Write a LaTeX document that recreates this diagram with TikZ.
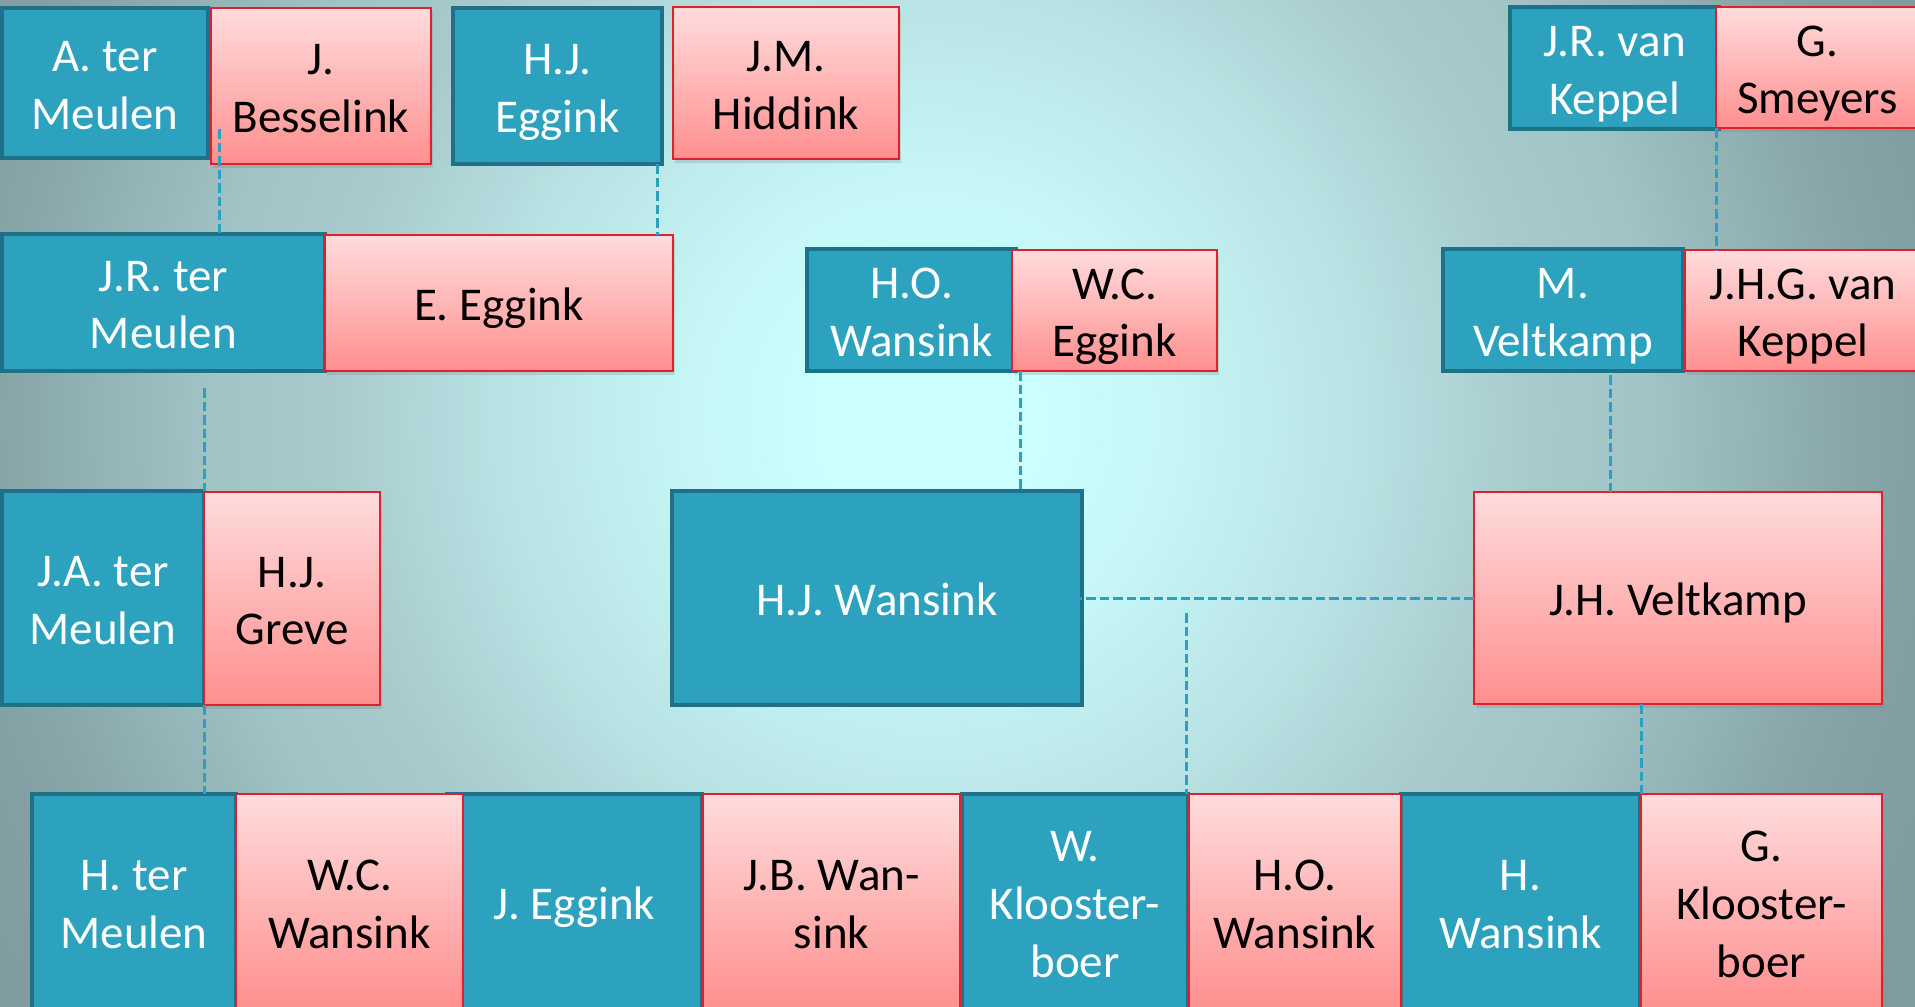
\documentclass[tikz,border=0pt]{standalone}
\usepackage{fontspec}
\setmainfont{Carlito}
\usetikzlibrary{calc,shadows}
\definecolor{bg0}{HTML}{CCFFFF}
\definecolor{bg1}{HTML}{C6F6F6}
\definecolor{bg2}{HTML}{B8E2E3}
\definecolor{bg3}{HTML}{A8CACC}
\definecolor{bg4}{HTML}{A0C3C5}
\definecolor{bg5}{HTML}{87A4A7}
\definecolor{bg6}{HTML}{82A0A4}
\definecolor{bg7}{HTML}{7E9B9F}
\definecolor{bluefill}{HTML}{2DA2BF}
\definecolor{blueline}{HTML}{1F7189}
\definecolor{pinktop}{HTML}{FFDCDC}
\definecolor{pinkbot}{HTML}{FF8F8F}
\definecolor{redline}{HTML}{E0202A}
\definecolor{conncol}{HTML}{2AA0C2}
\pgfdeclareradialshading{bgshade}{\pgfpoint{0bp}{0bp}}{color(0bp)=(bg0); color(48bp)=(bg0); color(120bp)=(bg1); color(215bp)=(bg2); color(300bp)=(bg3); color(360bp)=(bg4); color(465bp)=(bg5); color(493bp)=(bg6); color(550bp)=(bg7); color(620bp)=(bg7)}
\tikzset{
  person/.style={inner sep=0pt, outer sep=0pt},
  man/.style={person, fill=bluefill, draw=blueline, line width=2.25pt},
  woman/.style={person, top color=pinktop, bottom color=pinkbot, draw=redline, line width=1.2pt,
    drop shadow={shadow xshift=1.2pt, shadow yshift=-2pt, opacity=0.25}},
  mantext/.style={inner sep=0pt, align=center, text=white, font=\fontsize{23.5}{28.8}\selectfont},
  womantext/.style={inner sep=0pt, align=center, text=black, font=\fontsize{23.5}{28.8}\selectfont},
  conn/.style={draw=conncol, dash pattern=on 4.75pt off 2pt, line width=1.5pt}
}
\newcommand\pnode[7]{%
  \pgfmathsetmacro\pnw{(#5-#3)*0.5}%
  \pgfmathsetmacro\pnh{(#6-#4)*0.5}%
  \node[#1, minimum width=\pnw pt, minimum height=\pnh pt] (#2) at ({(#3+#5)/2},{(#4+#6)/2}) {};
  \node[#1text] (#2t) at ([yshift=-3pt]#2.center) {\strut #7\strut};}
\begin{document}
\begin{tikzpicture}[x=0.5pt, y=-0.5pt]
\useasboundingbox (0,0) rectangle (1915,1006);
\clip (0,0) rectangle (1915,1006);
\node[inner sep=0pt, outer sep=0pt] (bg) at (930,420) {\pgfuseshading{bgshade}};
% men
\pnode{man}{a1}{2}{8}{208}{158}{A. ter\\Meulen}
\pnode{man}{a3}{453}{8}{662}{164}{H.J.\\Eggink}
\pnode{man}{a5}{1510}{7}{1719}{129}{J.R. van\\Keppel}
\pnode{man}{b1}{2}{234}{325}{371}{J.R. ter\\Meulen}
\pnode{man}{b3}{807}{249}{1016}{371}{H.O.\\Wansink}
\pnode{man}{b5}{1443}{249}{1683}{371}{M.\\Veltkamp}
\pnode{man}{c1}{2}{491}{204}{705}{J.A. ter\\Meulen}
\pnode{man}{c3}{672}{491}{1082}{705}{H.J. Wansink}
\pnode{man}{d1}{32}{794}{236}{1010}{H. ter\\Meulen}
\pnode{man}{d3}{447}{794}{702}{1010}{J. Eggink}
\pnode{man}{d5}{962}{794}{1188}{1010}{W.\\Klooster-\\boer}
\pnode{man}{d7}{1401}{794}{1640}{1010}{H.\\Wansink}
% women
\pnode{woman}{a2}{211}{8}{431}{164}{J.\\Besselink}
\pnode{woman}{a4}{673}{7}{899}{159}{J.M.\\Hiddink}
\pnode{woman}{a6}{1716}{7}{1919}{128}{G.\\Smeyers}
\pnode{woman}{b2}{325}{235}{673}{371}{E. Eggink}
\pnode{woman}{b4}{1012}{250}{1217}{371}{W.C.\\Eggink}
\pnode{woman}{b6}{1685}{250}{1921}{371}{J.H.G. van\\Keppel}
\pnode{woman}{c2}{204}{492}{380}{705}{H.J.\\Greve}
\pnode{woman}{c4}{1474}{492}{1882}{704}{J.H. Veltkamp}
\pnode{woman}{d2}{236}{794}{463}{1010}{W.C.\\Wansink}
\pnode{woman}{d4}{703}{794}{960}{1010}{J.B. Wan-\\sink}
\pnode{woman}{d6}{1189}{794}{1401}{1010}{H.O.\\Wansink}
\pnode{woman}{d8}{1641}{794}{1882}{1010}{G.\\Klooster-\\boer}
% connectors
\draw[conn] ($(a2.south west)+(8,-35)$) -- ($(a2.south west |- b1.north)+(8,14)$);
\draw[conn] ($(a3.south east)+(-5,0)$) -- ($(a3.south east |- b2.north)+(-5,0)$);
\draw[conn] (a6.south west) -- (a6.south west |- b6.north);
\draw[conn] ($(c1.north east |- b1.south)+(0,17)$) -- (c1.north east);
\draw[conn] (c1.south east) -- (c1.south east |- d1.north);
\draw[conn] ($(b4.south west)+(8,0)$) -- ($(b4.south west |- c3.north)+(8,45)$);
\draw[conn] ($(b5.south)+(47,4)$) -- ($(b5.south |- c4.north)+(47,0)$);
\draw[conn] ($(c3.east)+(-50,0)$) -- (c4.west);
\draw[conn] ($(d6.north west |- c3.east)+(-3,15)$) -- ($(d6.north west)+(-3,0)$);
\draw[conn] (c4.south -| d8.north west) -- (d8.north west);
\end{tikzpicture}
\end{document}
